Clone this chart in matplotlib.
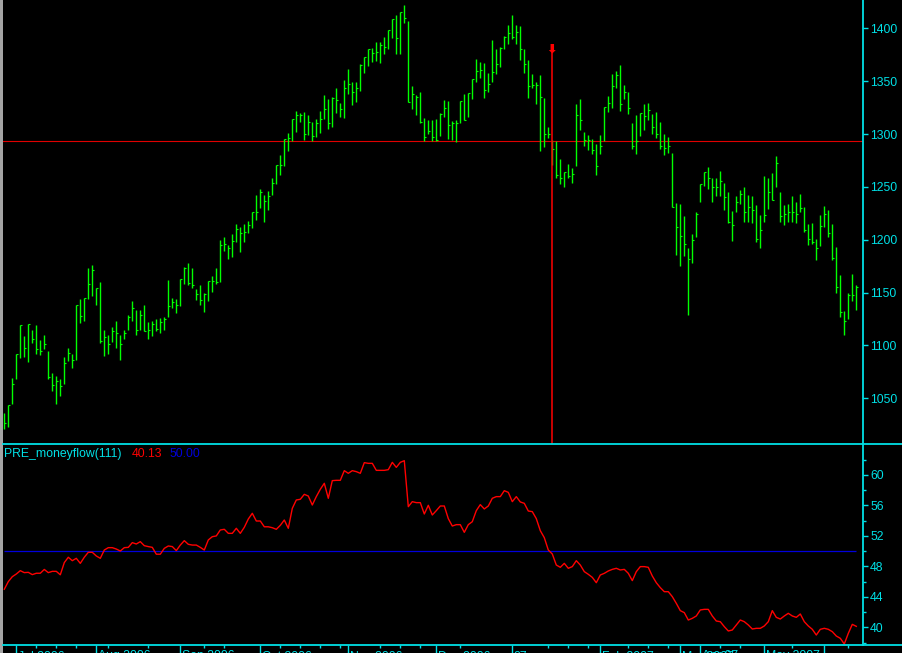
import matplotlib
matplotlib.use('Agg')
import matplotlib.pyplot as plt
from matplotlib.lines import Line2D
from matplotlib.patches import Rectangle
import numpy as np

plt.rcParams['font.family'] = ['Liberation Sans', 'DejaVu Sans']

# ---- price bars (daily) ----
high = [1036, 1044, 1069, 1092, 1119, 1109, 1120, 1115, 1119, 1105,
        1110, 1095, 1074, 1071, 1068, 1089, 1098, 1092, 1138, 1144,
        1145, 1173, 1176, 1154, 1160, 1115, 1110, 1117, 1123, 1110,
        1115, 1129, 1142, 1134, 1134, 1138, 1122, 1123, 1125, 1126,
        1127, 1162, 1145, 1144, 1163, 1174, 1178, 1173, 1153, 1157,
        1150, 1161, 1166, 1173, 1200, 1203, 1195, 1205, 1215, 1212,
        1215, 1218, 1226, 1242, 1248, 1242, 1246, 1258, 1271, 1280,
        1295, 1301, 1314, 1322, 1320, 1321, 1318, 1311, 1314, 1322,
        1337, 1333, 1335, 1344, 1329, 1351, 1362, 1349, 1349, 1366,
        1373, 1380, 1381, 1387, 1387, 1392, 1398, 1409, 1413, 1415,
        1422, 1407, 1345, 1337, 1340, 1315, 1313, 1313, 1314, 1320,
        1332, 1331, 1312, 1313, 1331, 1338, 1339, 1352, 1371, 1368,
        1367, 1358, 1389, 1380, 1382, 1393, 1403, 1413, 1403, 1402,
        1380, 1370, 1357, 1349, 1356, 1334, 1307, 1294, 1293, 1276,
        1264, 1272, 1268, 1328, 1333, 1302, 1299, 1295, 1291, 1299,
        1326, 1336, 1357, 1360, 1365, 1346, 1340, 1310, 1318, 1320,
        1328, 1329, 1319, 1321, 1311, 1300, 1297, 1282, 1235, 1234,
        1222, 1192, 1205, 1226, 1253, 1264, 1269, 1258, 1258, 1265,
        1254, 1245, 1227, 1241, 1247, 1250, 1242, 1241, 1233, 1223,
        1260, 1258, 1263, 1279, 1245, 1233, 1234, 1241, 1236, 1243,
        1231, 1215, 1216, 1201, 1223, 1232, 1228, 1215, 1193, 1167,
        1133, 1150, 1168, 1157]
low = [1021, 1023, 1045, 1068, 1088, 1089, 1084, 1102, 1092, 1091,
       1097, 1068, 1057, 1045, 1052, 1064, 1085, 1079, 1086, 1121,
       1123, 1144, 1147, 1138, 1102, 1090, 1092, 1103, 1098, 1086,
       1106, 1115, 1123, 1110, 1115, 1114, 1106, 1109, 1114, 1112,
       1115, 1127, 1135, 1131, 1137, 1158, 1157, 1154, 1143, 1138,
       1132, 1142, 1151, 1158, 1160, 1189, 1182, 1184, 1198, 1188,
       1198, 1206, 1211, 1219, 1230, 1217, 1228, 1242, 1253, 1261,
       1270, 1284, 1293, 1302, 1311, 1294, 1299, 1293, 1297, 1301,
       1314, 1305, 1307, 1320, 1316, 1315, 1338, 1327, 1330, 1341,
       1358, 1364, 1368, 1369, 1367, 1376, 1380, 1391, 1376, 1376,
       1405, 1330, 1324, 1318, 1310, 1293, 1300, 1293, 1293, 1298,
       1316, 1295, 1294, 1292, 1310, 1313, 1316, 1333, 1349, 1353,
       1334, 1340, 1349, 1357, 1363, 1380, 1385, 1390, 1385, 1370,
       1358, 1334, 1344, 1328, 1284, 1288, 1296, 1271, 1258, 1253,
       1250, 1258, 1254, 1270, 1304, 1289, 1285, 1281, 1261, 1281,
       1293, 1321, 1325, 1344, 1322, 1333, 1319, 1286, 1281, 1298,
       1304, 1313, 1300, 1296, 1286, 1280, 1282, 1231, 1186, 1175,
       1185, 1129, 1178, 1203, 1236, 1251, 1248, 1236, 1241, 1241,
       1228, 1216, 1199, 1226, 1234, 1217, 1217, 1216, 1198, 1192,
       1217, 1229, 1238, 1250, 1217, 1214, 1217, 1217, 1216, 1226,
       1207, 1195, 1196, 1181, 1194, 1212, 1203, 1181, 1150, 1127,
       1110, 1125, 1142, 1134]
close = [1027, 1044, 1064, 1092, 1119, 1098, 1120, 1106, 1097, 1095,
         1101, 1070, 1063, 1066, 1062, 1083, 1093, 1086, 1138, 1128,
         1145, 1158, 1171, 1154, 1104, 1108, 1101, 1114, 1112, 1101,
         1112, 1127, 1135, 1115, 1129, 1114, 1115, 1120, 1116, 1122,
         1125, 1137, 1141, 1138, 1163, 1173, 1159, 1157, 1149, 1143,
         1149, 1161, 1161, 1160, 1195, 1196, 1192, 1199, 1210, 1206,
         1207, 1214, 1226, 1226, 1245, 1237, 1241, 1254, 1271, 1271,
         1295, 1296, 1314, 1318, 1318, 1300, 1311, 1298, 1310, 1314,
         1324, 1310, 1334, 1332, 1324, 1344, 1347, 1340, 1344, 1365,
         1373, 1380, 1377, 1378, 1384, 1382, 1398, 1409, 1391, 1415,
         1410, 1330, 1338, 1335, 1311, 1297, 1303, 1297, 1294, 1319,
         1325, 1309, 1310, 1310, 1331, 1313, 1339, 1352, 1360, 1361,
         1342, 1347, 1359, 1366, 1381, 1392, 1396, 1392, 1397, 1380,
         1366, 1345, 1346, 1346, 1335, 1300, 1300, 1286, 1261, 1258,
         1264, 1260, 1262, 1318, 1313, 1294, 1294, 1285, 1270, 1289,
         1326, 1329, 1345, 1356, 1328, 1340, 1325, 1289, 1293, 1320,
         1317, 1323, 1307, 1300, 1289, 1287, 1289, 1231, 1212, 1204,
         1196, 1182, 1200, 1224, 1253, 1264, 1258, 1250, 1250, 1256,
         1240, 1217, 1214, 1236, 1243, 1226, 1231, 1228, 1201, 1209,
         1223, 1245, 1238, 1273, 1222, 1224, 1226, 1226, 1224, 1230,
         1209, 1201, 1198, 1192, 1213, 1224, 1206, 1183, 1155, 1132,
         1123, 1148, 1148, 1155]

# ---- PRE_moneyflow(111) ----
mf = [45.0, 46.0, 46.65, 47.0, 47.44, 47.18, 47.22, 46.92, 47.1, 47.1,
      47.6, 47.18, 47.35, 47.35, 46.9, 48.5, 49.2, 48.75, 49.06, 48.4,
      49.2, 49.85, 49.85, 49.37, 49.06, 50.15, 50.46, 50.46, 50.28, 50.02,
      50.46, 50.5, 51.12, 50.94, 51.25, 50.72, 50.6, 50.5, 49.6, 49.6,
      50.37, 50.68, 50.6, 50.07, 50.8, 51.38, 50.9, 50.8, 50.8, 50.5,
      50.15, 51.47, 51.9, 52.0, 52.78, 52.87, 52.34, 52.34, 53.0, 52.34,
      53.13, 54.22, 54.97, 53.96, 53.96, 53.2, 53.2, 53.08, 52.87, 53.39,
      54.09, 53.0, 55.62, 56.72, 56.81, 57.46, 57.24, 56.06, 57.16, 58.12,
      58.91, 56.94, 59.26, 59.3, 59.3, 60.57, 60.22, 60.57, 60.44, 60.22,
      61.62, 61.53, 61.53, 60.61, 60.61, 60.61, 60.7, 61.66, 61.0, 61.66,
      61.88, 55.84, 56.5, 56.37, 56.37, 54.88, 56.02, 54.75, 55.32, 55.93,
      55.93, 54.27, 53.3, 53.48, 53.48, 52.47, 53.48, 53.87, 55.32, 56.11,
      55.54, 55.93, 56.94, 57.16, 57.16, 57.94, 57.72, 56.5, 57.16, 56.46,
      56.28, 55.27, 55.19, 54.27, 52.69, 51.77, 50.15, 49.63, 48.18, 47.88,
      48.4, 47.75, 47.97, 48.75, 48.18, 47.31, 46.96, 46.56, 45.86, 46.87,
      47.09, 47.4, 47.61, 47.75, 47.53, 47.61, 47.09, 46.13, 47.31, 47.97,
      47.97, 47.88, 46.74, 45.86, 45.21, 44.68, 44.68, 44.03, 43.15, 42.19,
      41.93, 40.96, 41.18, 41.49, 42.28, 42.36, 42.36, 41.49, 40.83, 40.74,
      40.09, 39.52, 39.65, 40.31, 40.96, 40.74, 40.31, 39.78, 39.87, 39.87,
      40.18, 40.74, 42.19, 41.31, 41.09, 41.49, 41.84, 41.49, 41.31, 41.75,
      40.74, 40.18, 39.74, 38.99, 39.74, 39.87, 39.74, 39.43, 38.86, 38.56,
      37.81, 39.21, 40.39, 40.13]

ref_price = 1293      # horizontal study line on price pane
mf_level = 50.0       # reference level on indicator pane
selected = 137        # selected bar (red marker)

month_idx = [3, 23, 44, 64, 86, 108, 127, 149, 169, 174, 190, 205]
month_lbl = ['Jul 2006', 'Aug 2006', 'Sep 2006', 'Oct 2006', 'Nov 2006',
             'Dec 2006', '07', 'Feb 2007', 'Mar 2007', 'Apr 07', 'May 2007', '']
week_idx = [8, 13, 18, 26, 36, 50, 55, 69, 74, 79, 84, 94, 99, 104, 114,
            136, 141, 146, 156, 161, 166, 179, 184, 197, 211]

price_ticks = [1050, 1100, 1150, 1200, 1250, 1300, 1350, 1400]
mf_ticks = [40, 44, 48, 52, 56, 60]
mf_minor = [38, 42, 46, 50, 54, 58, 62]

W, H = 902, 653
CYAN = '#00e0e6'
GREEN = '#00ff00'
RED = '#ff0000'
BLUE = '#0000dc'

n = len(close)
idx = np.arange(n)

fig = plt.figure(figsize=(W / 100, H / 100), dpi=100, facecolor='black')


def box(x0, y0, x1, y1):
    # pixel box measured from top-left -> figure fraction rect
    return [x0 / W, 1 - y1 / H, (x1 - x0) / W, (y1 - y0) / H]


ax1 = fig.add_axes(box(3, 0, 863, 444.3))
ax2 = fig.add_axes(box(3, 444.3, 863, 645))

for ax in (ax1, ax2):
    ax.set_facecolor('black')
    for s in ax.spines.values():
        s.set_visible(False)
    ax.set_xlim(-0.325, n + 0.675)
    ax.yaxis.tick_right()
    ax.tick_params(axis='y', which='both', colors=CYAN, labelsize=8.8,
                   direction='out', width=1.0, pad=1.5)
    ax.tick_params(axis='y', which='major', length=3.6)
    ax.tick_params(axis='y', which='minor', length=2.0)

# price pane
ax1.set_ylim(1006.5, 1426.8)
ax1.set_yticks(price_ticks)
ax1.tick_params(axis='x', which='both', bottom=False, labelbottom=False)
ax1.axhline(ref_price, color='#e00000', lw=0.8)
ax1.vlines(idx, low, high, color=GREEN, lw=1.0)
ax1.hlines(close, idx, idx + 0.45, color=GREEN, lw=0.8)

ax1.plot([selected, selected], [1 - 52 / 444.3, 0], color=RED, lw=1.1,
         transform=ax1.get_xaxis_transform(), clip_on=False)
ax1.annotate('', xy=(selected, 1 - 53.5 / 444.3), xytext=(selected, 1 - 44 / 444.3),
             xycoords=('data', 'axes fraction'), textcoords=('data', 'axes fraction'),
             arrowprops=dict(arrowstyle='simple,head_length=0.5,head_width=1.0,tail_width=0.5',
                             color=RED, lw=0, shrinkA=0, shrinkB=0, mutation_scale=5))

# indicator pane
ax2.set_ylim(37.68, 64.03)
ax2.set_yticks(mf_ticks)
ax2.set_yticks(mf_minor, minor=True)
ax2.hlines(mf_level, 0, n - 1, color=BLUE, lw=0.9)
ax2.plot(idx, mf, color=RED, lw=1.0)

ax2.set_xticks(month_idx)
ax2.set_xticks(week_idx, minor=True)
ax2.tick_params(axis='x', which='both', colors=CYAN, direction='out',
                width=1.0, labelbottom=False)
ax2.tick_params(axis='x', which='major', length=6)
ax2.tick_params(axis='x', which='minor', length=2.5)
for i, lab in zip(month_idx, month_lbl):
    ax2.text(i + 0.4, -5.5 / 200.7, lab, color=CYAN, fontsize=8.8,
             ha='left', va='top', transform=ax2.get_xaxis_transform(), clip_on=False)

# frame lines
for y in (444.3, 645):
    fig.add_artist(Line2D([3 / W, 1], [1 - y / H, 1 - y / H], transform=fig.transFigure,
                          color=CYAN, lw=1.3))
fig.add_artist(Line2D([863 / W, 863 / W], [1, 1 - 645 / H], transform=fig.transFigure,
                      color=CYAN, lw=1.3))
fig.add_artist(Rectangle((0, 0), 2.7 / W, 1, transform=fig.transFigure,
                         facecolor='#a4a4a4', edgecolor='none'))

# title of indicator pane
fig.text(4 / W, 1 - 457 / H, 'PRE_moneyflow(111)', color=CYAN, fontsize=8.8, va='baseline')
fig.text(132 / W, 1 - 457 / H, f'{mf[-1]:.2f}', color=RED, fontsize=8.8, va='baseline')
fig.text(170 / W, 1 - 457 / H, f'{mf_level:.2f}', color=BLUE, fontsize=8.8, va='baseline')

fig.savefig('out.png', dpi=100, facecolor='black')
